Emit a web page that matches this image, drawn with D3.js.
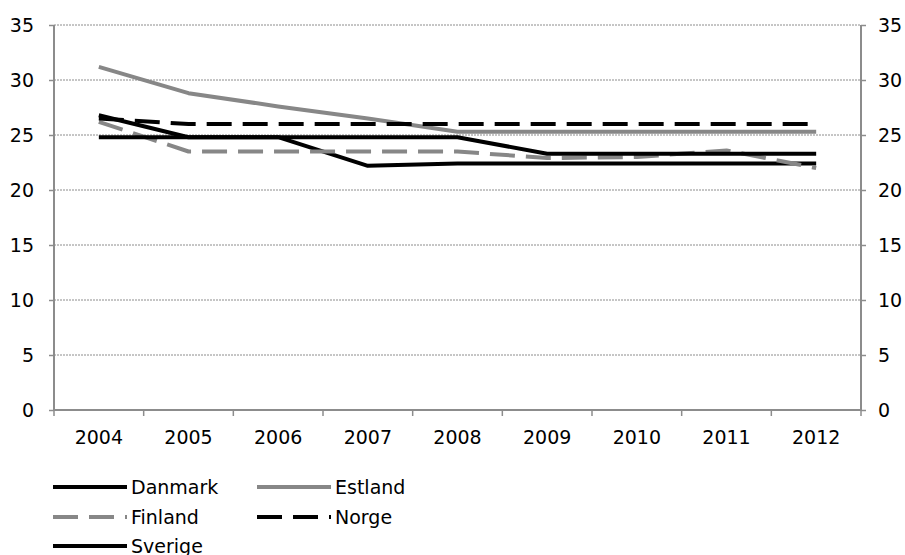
<!DOCTYPE html>
<html>
<head>
<meta charset="utf-8">
<script src="https://cdnjs.cloudflare.com/ajax/libs/d3/7.8.5/d3.min.js"></script>
<style>
  html, body { margin: 0; padding: 0; background: #fff; }
  svg { display: block; font-family: "DejaVu Sans", Verdana, sans-serif; }
</style>
</head>
<body>
<svg id="chart" width="905" height="555"></svg>
<script>
const years = ["2004", "2005", "2006", "2007", "2008", "2009", "2010", "2011", "2012"];
const yTicks = [0, 5, 10, 15, 20, 25, 30, 35];

const danmark = [26.8, 24.8, 24.8, 22.2, 22.4, 22.4, 22.4, 22.4, 22.4];
const estland = [31.2, 28.8, 27.6, 26.5, 25.3, 25.3, 25.3, 25.3, 25.3];
const finland = [26.2, 23.5, 23.5, 23.5, 23.5, 22.9, 23.0, 23.6, 22.0];
const norge   = [26.5, 26.0, 26.0, 26.0, 26.0, 26.0, 26.0, 26.0, 26.0];
const sverige = [24.8, 24.8, 24.8, 24.8, 24.8, 23.3, 23.3, 23.3, 23.3];

const series = [
  { name: "Danmark", values: danmark, color: "#000000", dash: null },
  { name: "Estland", values: estland, color: "#878787", dash: null },
  { name: "Finland", values: finland, color: "#878787", dash: "25,11" },
  { name: "Norge",   values: norge,   color: "#000000", dash: "25,11" },
  { name: "Sverige", values: sverige, color: "#000000", dash: null }
];

const svg = d3.select("#chart");
const plotLeft = 54, plotRight = 861, plotTop = 25, plotBottom = 410;
const axisColor = "#8c8c8c";
const fontSize = 19;

const x = d3.scaleBand().domain(years).range([plotLeft, plotRight]);
const y = d3.scaleLinear().domain([0, 35]).range([plotBottom, plotTop]);

// horizontal gridlines
svg.append("g")
  .selectAll("line")
  .data(yTicks.filter(d => d > 0))
  .join("line")
  .attr("x1", plotLeft).attr("x2", plotRight)
  .attr("y1", d => y(d)).attr("y2", d => y(d))
  .attr("stroke", "#8c8c8c")
  .attr("stroke-width", 1)
  .attr("stroke-dasharray", "2,1");

// left and right value axes
const yLeft = svg.append("g")
  .attr("transform", `translate(${plotLeft},0)`)
  .call(d3.axisLeft(y).tickValues(yTicks).tickSize(5).tickPadding(15).tickFormat(d3.format("d")));
const yRight = svg.append("g")
  .attr("transform", `translate(${plotRight},0)`)
  .call(d3.axisRight(y).tickValues(yTicks).tickSize(5).tickPadding(12).tickFormat(d3.format("d")));

[yLeft, yRight].forEach(g => {
  g.select(".domain").attr("stroke", axisColor).attr("stroke-width", 2)
    .attr("d", `M0,${plotTop}V${plotBottom}`);
  g.selectAll(".tick line").attr("stroke", axisColor).attr("stroke-width", 1.5);
  g.selectAll(".tick text").attr("fill", "#000").attr("font-size", fontSize)
    .attr("font-family", "DejaVu Sans, Verdana, sans-serif");
});

// bottom category axis: ticks at band boundaries
const xAxis = svg.append("g").attr("transform", `translate(0,${plotBottom})`);
xAxis.append("line")
  .attr("x1", plotLeft).attr("x2", plotRight)
  .attr("stroke", axisColor).attr("stroke-width", 2);
const bounds = years.map(d => x(d)).concat([x(years[years.length - 1]) + x.bandwidth()]);
xAxis.selectAll("line.tk")
  .data(bounds)
  .join("line")
  .attr("class", "tk")
  .attr("x1", d => d).attr("x2", d => d)
  .attr("y1", 0).attr("y2", 6)
  .attr("stroke", axisColor).attr("stroke-width", 1.5);
xAxis.selectAll("text")
  .data(years)
  .join("text")
  .attr("x", d => x(d) + x.bandwidth() / 2)
  .attr("y", 34)
  .attr("text-anchor", "middle")
  .attr("font-size", fontSize)
  .attr("fill", "#000")
  .text(d => d);

// series lines
const line = d3.line()
  .x((d, i) => x(years[i]) + x.bandwidth() / 2)
  .y(d => y(d));

svg.append("g")
  .selectAll("path")
  .data(series)
  .join("path")
  .attr("d", d => line(d.values))
  .attr("fill", "none")
  .attr("stroke", d => d.color)
  .attr("stroke-width", 4)
  .attr("stroke-linejoin", "round")
  .attr("stroke-dasharray", d => d.dash);

// legend
const legendPos = [
  { x: 53, y: 487 }, { x: 257, y: 487 },
  { x: 53, y: 517 }, { x: 257, y: 517 },
  { x: 53, y: 546 }
];
const legend = svg.append("g")
  .selectAll("g")
  .data(series)
  .join("g")
  .attr("transform", (d, i) => `translate(${legendPos[i].x},${legendPos[i].y})`);
legend.append("line")
  .attr("x1", 0).attr("x2", 74)
  .attr("stroke", d => d.color)
  .attr("stroke-width", 4)
  .attr("stroke-dasharray", d => d.dash);
legend.append("text")
  .attr("x", 78)
  .attr("dy", "0.35em")
  .attr("font-size", fontSize)
  .attr("fill", "#000")
  .text(d => d.name);
</script>
</body>
</html>
